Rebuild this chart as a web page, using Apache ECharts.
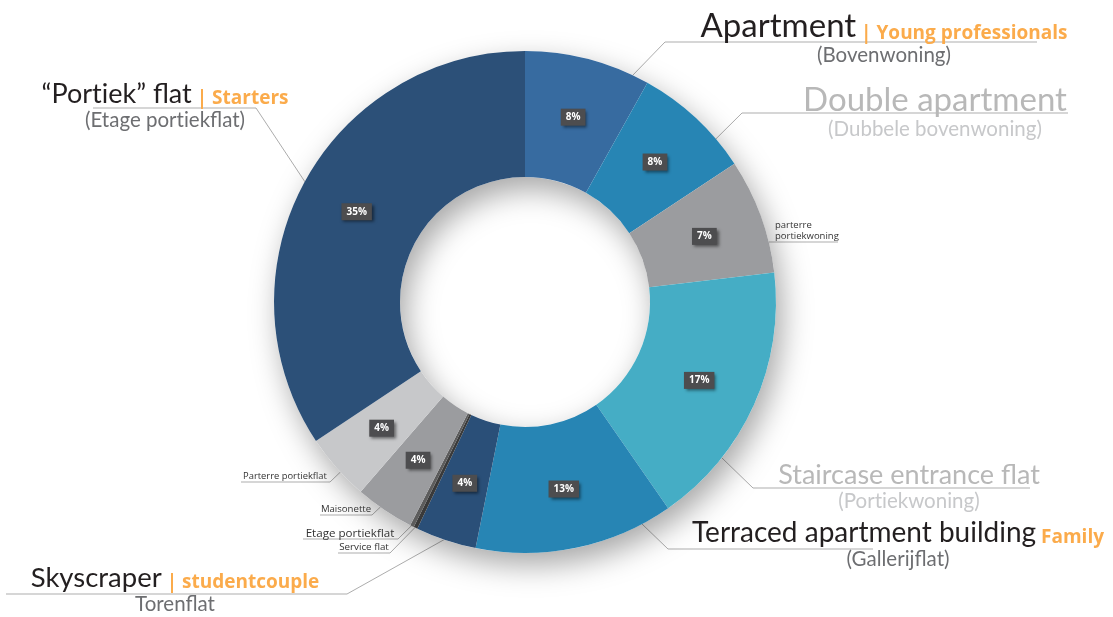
<!DOCTYPE html>
<html>
<head>
<meta charset="utf-8">
<script src="https://cdn.jsdelivr.net/npm/echarts@6/dist/echarts.min.js"></script>
<style>
  html, body { margin: 0; padding: 0; background: #fff; }
  #chart { width: 1113px; height: 617px; }
</style>
</head>
<body>
<div id="chart"></div>
<script>
// woningtypes, met de klok mee vanaf 12 uur
var categories = ['Apartment', 'Double apartment', 'parterre\nportiekwoning', 'Staircase entrance flat',
    'Terraced apartment building', 'Skyscraper', 'Service flat', 'Etage portiekflat',
    'Maisonette', 'Parterre portiekflat', '\u201cPortiek\u201d flat'];
var shares = [8.1, 7.6, 7.4, 17.2, 12.8, 3.9, 0.25, 0.25, 3.8, 4.3, 34.3];
var shareLabels = ['8%', '8%', '7%', '17%', '13%', '4%', '0%', '', '4%', '4%', '35%'];
var subtitles = ['(Bovenwoning)', '(Dubbele bovenwoning)', '', '(Portiekwoning)', '(Gallerijflat)',
    'Torenflat', '', '', '', '', '(Etage portiekflat)'];
var targetGroups = ['| Young professionals', '', '', '', 'Family', '| studentcouple', '', '', '', '', '| Starters'];

var colors = ['#376ba0', '#2785b4', '#9b9c9f', '#45adc5', '#2785b4', '#2a4f78',
    '#3a3a3a', '#5c5c5c', '#9b9c9f', '#c7c8ca', '#2c5078'];

var CX = 525, CY = 302, R_IN = 125, R_OUT = 251;

// label placement: text x, main text centre y, line y, elbow x, line end x,
// start of the leader inside the slice (fraction of slice, radius), kind, font size
var labelBox = [
    { x: 884, ty: 28, ly: 42, ex: 665, fx: 1037, f: 0.79, r: 224, kind: 'dark', size: 33 },
    { x: 935, ty: 102, ly: 113, ex: 742, fx: 1068, f: 0.77, r: 212, kind: 'light', size: 33 },
    { x: 775, ly: 242, ex: 742, fx: 838, f: 0.68, r: 225, kind: 'small', size: 9.5, align: 'left' },
    { x: 909, ty: 474, ly: 488, ex: 753, fx: 1030, f: 0.71, r: 210, kind: 'light', size: 27 },
    { x: 898, ty: 532, ly: 549, ex: 668, fx: 873, f: 0.23, r: 211, kind: 'dark', size: 28 },
    { x: 175, ty: 577, ly: 594, ex: 347, fx: 6, f: 0.29, r: 236, kind: 'dark', size: 27.5 },
    { x: 364, ly: 553, ex: 390, fx: 338, f: 0.5, r: 249, kind: 'small', size: 9.8 },
    { x: 350, ly: 539, ex: 398, fx: 303, f: 0.5, r: 249, kind: 'small', size: 11.6 },
    { x: 346, ly: 515, ex: 372, fx: 320, f: 0.56, r: 244, kind: 'small', size: 9.6 },
    { x: 285, ly: 482, ex: 330, fx: 241, f: 0.42, r: 238, kind: 'small', size: 9.4 },
    { x: 165, ty: 93, ly: 108, ex: 256, fx: 93, f: 0.47, r: 221, kind: 'dark', size: 27 }
];

var total = shares.reduce(function (a, b) { return a + b; }, 0);
var cum = [];
shares.reduce(function (acc, v, i) { cum[i] = acc; return acc + v; }, 0);

function leaderStart(i) {
    var L = labelBox[i];
    var a = (cum[i] + L.f * shares[i]) / total * 2 * Math.PI;
    return [CX + L.r * Math.sin(a), CY - L.r * Math.cos(a)];
}

// Lato zet "ti" als ligatuur, dat doet het origineel niet
function noLig(s) {
    return s.replace(/t(?=i)/g, 't\u200C');
}

var H1 = 30;

var rich = {
    o: { fontFamily: 'Open Sans', fontWeight: 'bold', fontSize: 19, color: '#fbab4b', lineHeight: 22, verticalAlign: 'bottom' },
    s: { fontFamily: 'Lato', fontSize: 20.5, color: '#6d6e71', lineHeight: 24 },
    sl: { fontFamily: 'Lato', fontSize: 20.5, color: '#c7c8ca', lineHeight: 24 }
};
labelBox.forEach(function (L, i) {
    if (L.kind === 'small') {
        rich['t' + i] = { fontFamily: 'Open Sans', fontSize: L.size, color: '#333', lineHeight: 11 };
    } else {
        rich['m' + i] = {
            fontFamily: 'Lato', fontSize: L.size, lineHeight: H1, verticalAlign: 'bottom',
            color: L.kind === 'light' ? '#b8b8b8' : '#231f20'
        };
    }
});

function outerText(i) {
    var L = labelBox[i];
    if (L.kind === 'small') {
        return categories[i].split('\n').map(function (s) { return '{t' + i + '|' + s + '}'; }).join('\n');
    }
    var first = '{m' + i + '|' + noLig(categories[i]) + '}';
    if (targetGroups[i]) first += '{o| ' + targetGroups[i] + '}';
    return first + '\n{' + (L.kind === 'light' ? 'sl' : 's') + '|' + noLig(subtitles[i]) + '}';
}

var ringData = categories.map(function (c, i) {
    return {
        name: c,
        value: shares[i],
        itemStyle: { color: colors[i] },
        label: { show: shareLabels[i] !== '' }
    };
});

var labelData = categories.map(function (c, i) {
    return { name: c, value: shares[i] };
});

var chart = echarts.init(document.getElementById('chart'));
chart.setOption({
    animation: false,
    series: [{
        // schaduw onder de ring
        type: 'pie',
        silent: true,
        center: [CX, CY],
        radius: [R_IN, R_OUT],
        label: { show: false },
        labelLine: { show: false },
        itemStyle: {
            color: '#fff',
            shadowBlur: 30,
            shadowColor: 'rgba(0,0,0,0.35)',
            shadowOffsetX: 6,
            shadowOffsetY: 12
        },
        data: [{ value: 1 }]
    }, {
        type: 'pie',
        silent: true,
        center: [CX, CY],
        radius: [R_IN, R_OUT],
        startAngle: 90,
        avoidLabelOverlap: false,
        itemStyle: { borderWidth: 0 },
        label: {
            position: 'inside',
            formatter: function (p) { return shareLabels[p.dataIndex]; },
            fontFamily: 'Open Sans',
            fontWeight: 'bold',
            fontSize: 10,
            color: '#fff',
            backgroundColor: '#4d4d4f',
            padding: [4, 5, 3, 5],
            shadowBlur: 3,
            shadowColor: 'rgba(0,0,0,0.5)',
            shadowOffsetX: 2,
            shadowOffsetY: 2
        },
        labelLine: { show: false },
        data: ringData
    }, {
        // alleen voor de buitenlabels
        type: 'pie',
        silent: true,
        center: [CX, CY],
        radius: [R_IN, R_OUT],
        startAngle: 90,
        avoidLabelOverlap: false,
        itemStyle: { color: 'rgba(0,0,0,0)' },
        label: {
            position: 'outside',
            formatter: function (p) { return outerText(p.dataIndex); },
            rich: rich
        },
        labelLine: {
            show: true,
            lineStyle: { color: 'rgba(70,70,70,0.45)', width: 1 }
        },
        labelLayout: function (p) {
            var i = p.dataIndex;
            var L = labelBox[i];
            var out = {
                labelLinePoints: [leaderStart(i), [L.ex, L.ly], [L.fx, L.ly]]
            };
            if (L.kind === 'small') {
                out.x = L.x;
                out.y = L.ly;
                out.align = L.align || 'center';
                out.verticalAlign = 'bottom';
            } else {
                out.x = L.x;
                out.y = L.ty - H1 / 2;
                out.align = 'center';
                out.verticalAlign = 'top';
            }
            return out;
        },
        data: labelData
    }]
});
</script>
</body>
</html>
